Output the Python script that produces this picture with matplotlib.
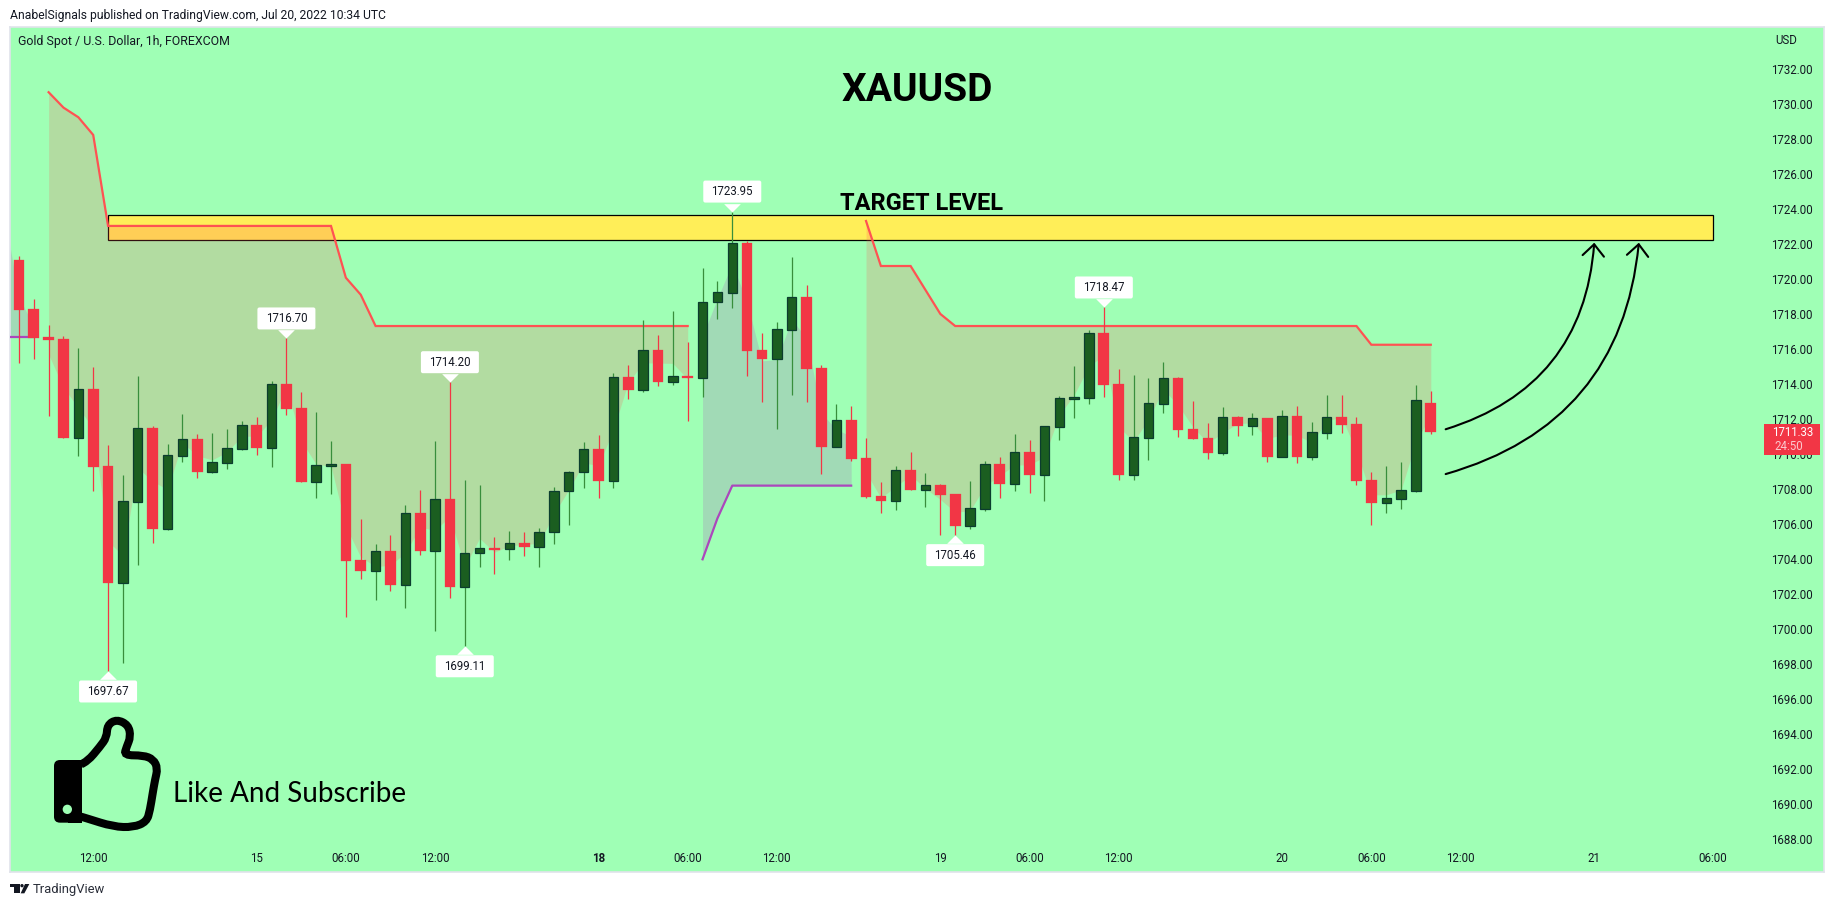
import numpy as np
import matplotlib
matplotlib.use('Agg')
import matplotlib.pyplot as plt
from matplotlib.patches import Rectangle, FancyBboxPatch, PathPatch, Circle, Polygon
from matplotlib.path import Path
from matplotlib.transforms import Affine2D, IdentityTransform, Bbox

W, H = 1834, 907

# hourly candles
opens = [1721.18, 1718.38, 1716.78, 1716.67, 1711.03, 1713.81, 1709.41, 1702.74, 1707.37, 1711.58,
         1705.83, 1710.00, 1710.95, 1709.09, 1709.60, 1710.40, 1711.75, 1710.46, 1714.10, 1712.72,
         1708.51, 1709.43, 1709.52, 1704.04, 1703.43, 1704.55, 1702.63, 1706.72, 1704.57, 1707.52,
         1702.51, 1704.42, 1704.72, 1704.65, 1704.99, 1704.80, 1705.62, 1707.96, 1709.05, 1710.38,
         1708.57, 1714.50, 1713.78, 1716.03, 1714.23, 1714.54, 1714.46, 1718.77, 1719.32, 1722.14,
         1716.03, 1715.55, 1717.21, 1719.07, 1715.00, 1710.52, 1712.04, 1709.87, 1707.70, 1707.43,
         1709.19, 1708.06, 1708.33, 1707.82, 1706.01, 1706.98, 1709.53, 1708.41, 1710.22, 1708.92,
         1711.66, 1713.26, 1713.32, 1717.02, 1714.10, 1708.92, 1711.03, 1712.98, 1714.44, 1711.53,
         1711.02, 1710.18, 1712.22, 1711.72, 1712.16, 1709.95, 1712.27, 1709.95, 1711.32, 1712.22,
         1711.82, 1708.62, 1707.32, 1707.55, 1708.01, 1713.00]
highs = [1721.41, 1718.95, 1717.45, 1716.84, 1716.15, 1715.07, 1710.61, 1708.90, 1714.55, 1711.70,
         1710.67, 1712.38, 1711.24, 1711.30, 1711.52, 1711.98, 1712.19, 1714.25, 1716.70, 1713.64,
         1712.50, 1710.84, 1709.52, 1706.38, 1704.95, 1705.47, 1707.18, 1708.04, 1710.84, 1714.20,
         1708.61, 1708.32, 1705.35, 1705.70, 1705.64, 1705.87, 1708.19, 1709.12, 1710.78, 1711.18,
         1714.72, 1715.17, 1717.76, 1716.90, 1718.27, 1716.50, 1720.73, 1719.99, 1723.95, 1722.29,
         1717.02, 1717.63, 1721.36, 1719.76, 1715.17, 1712.96, 1712.84, 1711.02, 1708.50, 1709.42,
         1710.22, 1709.02, 1708.39, 1707.82, 1708.56, 1709.70, 1709.93, 1711.24, 1710.90, 1711.68,
         1713.42, 1715.13, 1717.19, 1718.47, 1714.96, 1714.62, 1714.44, 1715.36, 1714.50, 1713.13,
         1711.87, 1712.79, 1712.27, 1712.44, 1712.16, 1712.62, 1712.84, 1711.93, 1713.47, 1713.47,
         1712.22, 1709.07, 1709.42, 1709.64, 1714.04, 1713.70]
lows = [1715.28, 1715.54, 1712.29, 1711.03, 1710.00, 1708.00, 1697.67, 1698.13, 1703.77, 1705.03,
        1705.77, 1709.66, 1708.74, 1709.03, 1709.26, 1710.34, 1710.06, 1709.37, 1712.34, 1708.51,
        1707.60, 1707.83, 1700.80, 1702.97, 1701.77, 1702.29, 1701.31, 1704.34, 1700.00, 1701.89,
        1699.11, 1703.66, 1703.26, 1704.06, 1704.29, 1703.66, 1704.97, 1706.06, 1708.17, 1707.60,
        1708.17, 1713.24, 1713.66, 1714.01, 1714.06, 1712.01, 1713.36, 1717.83, 1718.46, 1714.58,
        1713.09, 1711.55, 1713.49, 1713.09, 1708.98, 1710.52, 1709.72, 1707.61, 1706.75, 1706.92,
        1708.06, 1707.09, 1705.49, 1705.46, 1705.83, 1706.86, 1707.59, 1708.01, 1707.89, 1707.43,
        1710.92, 1712.16, 1712.98, 1713.36, 1708.63, 1708.63, 1709.78, 1712.46, 1711.09, 1710.96,
        1709.83, 1710.06, 1711.15, 1711.19, 1709.64, 1709.95, 1709.61, 1709.78, 1710.98, 1711.32,
        1708.35, 1706.06, 1706.75, 1706.98, 1707.95, 1711.26]
closes = [1718.34, 1716.74, 1716.63, 1711.03, 1713.79, 1709.37, 1702.74, 1707.39, 1711.56, 1705.83,
          1710.02, 1710.93, 1709.09, 1709.62, 1710.42, 1711.73, 1710.46, 1714.08, 1712.67, 1708.51,
          1709.45, 1709.50, 1704.00, 1703.43, 1704.53, 1702.63, 1706.70, 1704.57, 1707.50, 1702.51,
          1704.42, 1704.71, 1704.61, 1704.99, 1704.80, 1705.62, 1707.96, 1709.05, 1710.36, 1708.57,
          1714.48, 1713.78, 1716.03, 1714.23, 1714.54, 1714.46, 1718.77, 1719.34, 1722.14, 1716.01,
          1715.55, 1717.23, 1719.05, 1714.98, 1710.52, 1712.03, 1709.83, 1707.66, 1707.43, 1709.17,
          1708.06, 1708.31, 1707.78, 1706.01, 1707.00, 1709.51, 1708.41, 1710.20, 1708.92, 1711.68,
          1713.28, 1713.34, 1717.00, 1714.06, 1708.92, 1711.05, 1713.00, 1714.42, 1711.49, 1710.96,
          1710.18, 1712.20, 1711.72, 1712.14, 1709.95, 1712.25, 1709.95, 1711.34, 1712.20, 1711.78,
          1708.58, 1707.32, 1707.57, 1708.02, 1713.17, 1711.33]

# trend lines of the indicator (first index, values)
red_start_1 = 2
red_line_1 = [1730.77, 1729.89, 1729.34, 1728.33] + [1723.13] * 16 + [1720.17, 1719.20] + [1717.41] * 22
red_start_2 = 57
red_line_2 = [1723.41, 1720.84, 1720.84, 1720.84, 1719.47, 1718.10] + [1717.41] * 28 + [1716.34] * 5
purple_start_1 = -1
purple_line_1 = [1716.77, 1716.77, 1716.77]
purple_start_2 = 46
purple_line_2 = [1704.08, 1706.42, 1708.29, 1708.29, 1708.29, 1708.29, 1708.29, 1708.29, 1708.29, 1708.29, 1708.29]
prev_ohlc4 = 1723.9

price_ticks = list(range(1688, 1733, 2))
time_pos = [5, 16, 22, 28, 39, 45, 51, 62, 68, 74, 85, 91, 97, 106, 114]
time_labels = ['12:00', '15', '06:00', '12:00', '18', '06:00', '12:00', '19', '06:00', '12:00', '20',
               '06:00', '12:00', '21', '06:00']

zone_x = [6, 114]
zone_y = [1722.31, 1723.74]
# (candle, price, label above?)
callouts = [(6, 1697.67, False), (18, 1716.70, True), (29, 1714.20, True), (30, 1699.11, False),
            (48, 1723.95, True), (63, 1705.46, False), (73, 1718.47, True)]
arrows = [((96, 1711.51), (106, 1722.17)), ((96, 1708.95), (109, 1722.17))]

BG = '#9FFFB5'
RED = '#F23645'
GREEN = '#1B5E20'
GREEN_EDGE = '#0B3D2E'
GREEN_WICK = '#388E3C'
TXT = '#131722'

plt.rcParams['font.family'] = ['Roboto', 'DejaVu Sans']

fig = plt.figure(figsize=(W / 100, H / 100), dpi=100, facecolor='white')
# picture pixels, y pointing down
pix = Affine2D().scale(1, -1).translate(0, H)

L, R, T, B = 10, 1824, 27, 871.7
X0 = 18.9
ax = fig.add_axes([L / W, 1 - B / H, (R - L) / W, (B - T) / H], facecolor=BG)
ax.set_xlim((L - X0) / 14.862, (R - X0) / 14.862)
ax.set_ylim(1724 - (B - 210.7) / 17.5, 1724 + (210.7 - T) / 17.5)
for s in ax.spines.values():
    s.set_color('#E0E3EB')
    s.set_linewidth(1.2)

o, h, l, c = map(np.array, (opens, highs, lows, closes))
x = np.arange(len(o))
ohlc4 = (o + h + l + c) / 4
up = c >= o

ax.add_patch(Rectangle((zone_x[0], zone_y[0]), zone_x[1] - zone_x[0], zone_y[1] - zone_y[0],
                       facecolor='#FFEE58', edgecolor='black', linewidth=0.9, zorder=1))

# clouds between the trend line and ohlc4
for start, line in [(red_start_1, red_line_1), (red_start_2, red_line_2)]:
    xs = np.arange(start, start + len(line))
    ax.fill_between(xs, line, ohlc4[xs], color='#FF5252', alpha=0.2, linewidth=0, zorder=2)
    ax.plot(xs, line, color='#FF5252', lw=1.6, zorder=3, solid_joinstyle='miter')
xs = np.arange(purple_start_1, purple_start_1 + len(purple_line_1))
ax.fill_between(xs, purple_line_1, [prev_ohlc4, ohlc4[0], ohlc4[1]], color='#AB47BC', alpha=0.2, linewidth=0, zorder=2)
ax.plot(xs, purple_line_1, color='#AB47BC', lw=1.6, zorder=3)
xs = np.arange(purple_start_2, purple_start_2 + len(purple_line_2))
ax.fill_between(xs, purple_line_2, ohlc4[xs], color='#AB47BC', alpha=0.2, linewidth=0, zorder=2)
ax.plot(xs, purple_line_2, color='#AB47BC', lw=1.6, zorder=3)

# candles
ax.vlines(x[up], l[up], h[up], color=GREEN_WICK, lw=0.9, zorder=4)
ax.vlines(x[~up], l[~up], h[~up], color=RED, lw=0.9, zorder=4)
ax.bar(x[up], (c - o)[up], bottom=o[up], width=0.63, color=GREEN, edgecolor=GREEN_EDGE, linewidth=0.9, zorder=5)
ax.bar(x[~up], (c - o)[~up], bottom=o[~up], width=0.72, color=RED, edgecolor=RED, linewidth=0.2, zorder=5)

# axis labels sit inside the plot
ax.yaxis.tick_right()
ax.set_yticks(price_ticks)
ax.set_yticklabels([f'{p:.2f}' for p in price_ticks])
ax.set_xticks(time_pos)
ax.set_xticklabels(time_labels)
ax.tick_params(axis='y', length=0, pad=-8, labelsize=8.3, labelcolor=TXT)
ax.tick_params(axis='x', length=0, pad=-14.5, labelsize=8.3, labelcolor=TXT)
for lab in ax.get_yticklabels():
    lab.set_ha('right')
    lab.set_va('center')
    lab.set_clip_on(True)
    lab.set_clip_box(Bbox([[1700, H - 845], [1834, H]]))
ax.get_xticklabels()[time_labels.index('18')].set_fontweight('bold')

fig.canvas.draw()

# high / low callouts
tip = [(-1, 1), (1, 1), (0, 0)]
for i, p, above in callouts:
    px_x, px_y = ax.transData.transform((i, p))
    sign = 1 if above else -1
    ax.add_patch(FancyBboxPatch((px_x - 29, px_y + sign * 20 - 11), 58, 22, boxstyle='round,pad=0,rounding_size=2',
                                mutation_scale=1, fc='white', ec='none', transform=IdentityTransform(), zorder=6))
    marker = tip if above else [(-1, -1), (1, -1), (0, 0)]
    ax.plot([i], [p], marker=marker, ms=12, mfc='white', mec='none', ls='none', zorder=6)
    ax.annotate(f'{p:.2f}', xy=(i, p), xytext=(0, sign * 20), textcoords='offset pixels', ha='center', va='center',
                fontsize=8.3, color=TXT, zorder=7)

# drawn on the chart by the author
for start, end in arrows:
    ax.annotate('', xy=end, xytext=start, zorder=7,
                arrowprops=dict(arrowstyle='->,head_length=0.6,head_width=0.55', mutation_scale=14, color='black',
                                lw=1.5, shrinkA=0, shrinkB=0, connectionstyle='arc3,rad=0.34'))
ax.text(917, 90.5, 'XAUUSD', transform=pix, ha='center', va='center', fontsize=28, fontweight='bold', color='black', zorder=8)
ax.text(922, 203.5, 'TARGET LEVEL', transform=pix, ha='center', va='center', fontsize=17, fontweight='bold', color='black', zorder=8)
ax.text(173, 794.5, 'Like And Subscribe', transform=pix, ha='left', va='center', fontsize=20, family=['Lato', 'DejaVu Sans'], color='black', zorder=8)

# price tag
ax.add_patch(Rectangle((1764, 424), 56, 31, transform=pix, fc=RED, ec='none', zorder=8))
ax.text(1813, 432.5, f'{closes[-1]:.2f}', transform=pix, ha='right', va='center', fontsize=8.3, color='white', zorder=9)
ax.text(1774, 447, '24:50', transform=pix, ha='left', va='center', fontsize=8.3, color='#FBC8CD', zorder=9)

ax.text(18.5, 42, 'Gold Spot / U.S. Dollar, 1h, FOREXCOM', transform=pix, ha='left', va='center', fontsize=8.9, color=TXT)
ax.text(1775, 41, 'USD', transform=pix, ha='left', va='center', fontsize=8.3, color=TXT)
fig.text(10, 15, 'AnabelSignals published on TradingView.com, Jul 20, 2022 10:34 UTC', transform=pix, ha='left', va='center',
         fontsize=8.7, color=TXT)
fig.text(33, 889.5, 'TradingView', transform=pix, ha='left', va='center', fontsize=9.4, color='#2A2E39')

# thumbs up icon, traced in zoomed pixels
icon = Affine2D().scale(1 / 3, 1 / 3).translate(0, 680) + pix
hand = [(243, 253), (262, 245), (300, 200), (320, 172), (322, 135), (350, 118), (385, 135), (392, 170), (380, 200),
        (372, 226), (430, 226), (460, 238), (473, 265), (465, 300), (458, 340), (450, 390), (440, 425), (400, 442),
        (340, 440), (260, 415), (243, 410)]
verts = [hand[0]]
codes = [Path.MOVETO]
for a, b in zip(hand[1:-1], hand[2:]):
    verts += [a, ((a[0] + b[0]) / 2, (a[1] + b[1]) / 2)]
    codes += [Path.CURVE3, Path.CURVE3]
verts.append(hand[-1])
codes.append(Path.LINETO)
ax.add_patch(PathPatch(Path(verts, codes), fc='none', ec='black', lw=5.8, transform=icon, zorder=8, capstyle='butt'))
ax.add_patch(FancyBboxPatch((162, 240), 81, 188, boxstyle='round,pad=0,rounding_size=18', mutation_scale=1,
                            fc='black', ec='none', transform=icon, zorder=8))
ax.add_patch(Rectangle((205, 240), 40, 188, fc='black', ec='none', transform=icon, zorder=8))
ax.add_patch(Circle((202, 388), 14, fc=BG, ec='none', transform=icon, zorder=9))

# TradingView logo
for poly in [[(30, 612), (60, 612), (60, 640), (42, 640), (42, 622), (30, 622)],
             [(62, 640), (75, 612), (88, 612), (73, 640)]]:
    fig.add_artist(Polygon(poly, closed=True, fc=TXT, ec='none', transform=icon))
fig.add_artist(Circle((66, 617), 5, fc=TXT, ec='none', transform=icon))

fig.savefig('out.png', dpi=100)
